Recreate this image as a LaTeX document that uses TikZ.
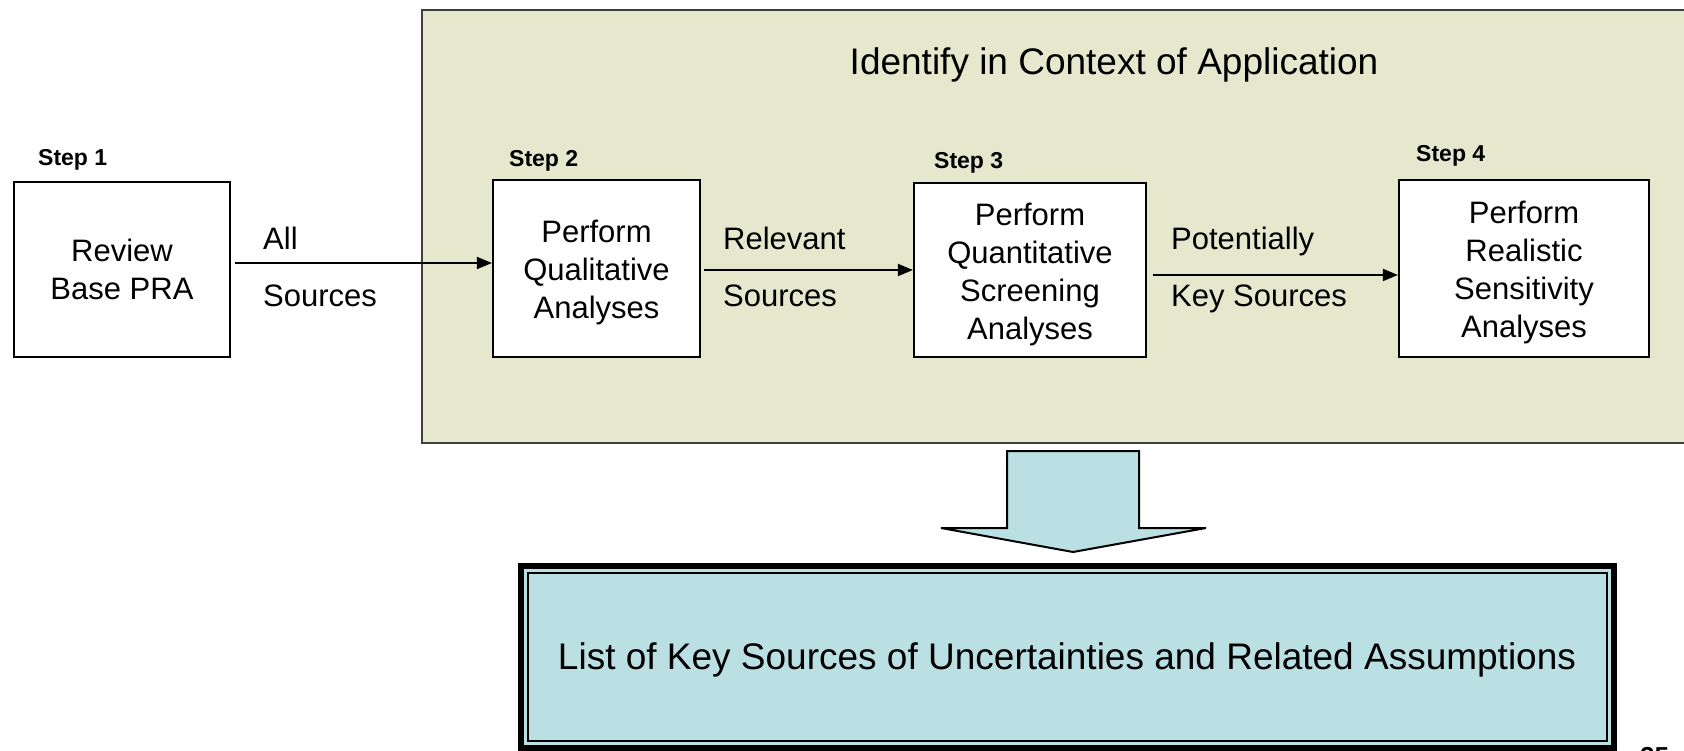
\documentclass[tikz,border=0pt]{standalone}
\usepackage{fontspec}
\setmainfont{Liberation Sans}
\usetikzlibrary{arrows.meta}
\definecolor{bggreen}{RGB}{229,232,205}
\definecolor{lblue}{RGB}{186,224,228}
\tikzset{
  stepbox/.style={draw=black, line width=2.2pt, fill=white, inner sep=0pt},
  boxtext/.style={align=center, inner sep=0pt, font=\fontsize{31}{38}\selectfont},
  steplabel/.style={anchor=west, inner sep=0pt, font=\fontsize{23}{27}\selectfont\bfseries},
  flowlabel/.style={anchor=west, inner sep=0pt, font=\fontsize{31}{37}\selectfont},
  arr/.style={line width=1.8pt, -{Triangle[length=15pt,width=12pt]}},
}
\begin{document}
\begin{tikzpicture}[x=1pt,y=-1pt]
\useasboundingbox (0,0) rectangle (1684,751);
% green context box
\draw[fill=bggreen, draw=black!75, line width=2pt] (422,10) rectangle (1700,443);
\node[inner sep=0pt, font=\fontsize{37}{44}\selectfont] (title) at (1114,65) {Identify in Context of Application};
% step boxes
\node[stepbox, minimum width=216pt, minimum height=175pt] (s1) at (122,269.5) {};
\node[stepbox, minimum width=207pt, minimum height=177pt] (s2) at (596.5,268.5) {};
\node[stepbox, minimum width=232pt, minimum height=174pt] (s3) at (1030,270) {};
\node[stepbox, minimum width=250pt, minimum height=177pt] (s4) at (1524,268.5) {};
\node[boxtext] (s1t) at (s1.center) {Review\\Base PRA};
\node[boxtext] (s2t) at ([yshift=-4pt]s2.center) {Perform\\Qualitative\\Analyses};
\node[boxtext] (s3t) at ([yshift=-4pt]s3.center) {Perform\\Quantitative\\Screening\\Analyses};
\node[boxtext] (s4t) at ([yshift=-4pt]s4.center) {Perform\\Realistic\\Sensitivity\\Analyses};
% step labels
\node[steplabel] (l1) at (38,160) {Step 1};
\node[steplabel] (l2) at (509,161) {Step 2};
\node[steplabel] (l3) at (934,163) {Step 3};
\node[steplabel] (l4) at (1416,156) {Step 4};
% arrows
\coordinate (a1) at (235,263);
\coordinate (a2) at (704,270);
\coordinate (a3) at (1153,275);
\draw[arr] (a1) -- (a1 -| s2.west);
\draw[arr] (a2) -- (a2 -| s3.west);
\draw[arr] (a3) -- (a3 -| s4.west);
% flow labels
\node[flowlabel] (t1a) at (263,238) {All};
\node[flowlabel] (t1b) at (263,296) {Sources};
\node[flowlabel] (t2a) at (723,238) {Relevant};
\node[flowlabel] (t2b) at (723,296) {Sources};
\node[flowlabel] (t3a) at (1171,241) {Potentially};
\node[flowlabel] (t3b) at (1171,299) {Key Sources};
% big down arrow
\draw[fill=lblue, draw=black, line width=2pt, line join=miter]
  (1007,451) -- (1139,451) -- (1139,528) -- (1206,528) -- (1073,552) -- (941,528) -- (1007,528) -- cycle;
% bottom box
\fill[black] (518,563) rectangle (1617,770);
\fill[lblue] (524,569) rectangle (1611,745);
\draw[black, line width=1.6pt, fill=lblue] (528,573) rectangle (1607,741);
\node[inner sep=0pt, font=\fontsize{37}{44}\selectfont] (res) at (1067,660) {List of Key Sources of Uncertainties and Related Assumptions};
% page number (cut off at the lower edge, as in the original)
\node[anchor=north west, inner sep=0pt, font=\fontsize{26}{30}\selectfont\bfseries] (pg) at (1640,747) {25};
\end{tikzpicture}
\end{document}
